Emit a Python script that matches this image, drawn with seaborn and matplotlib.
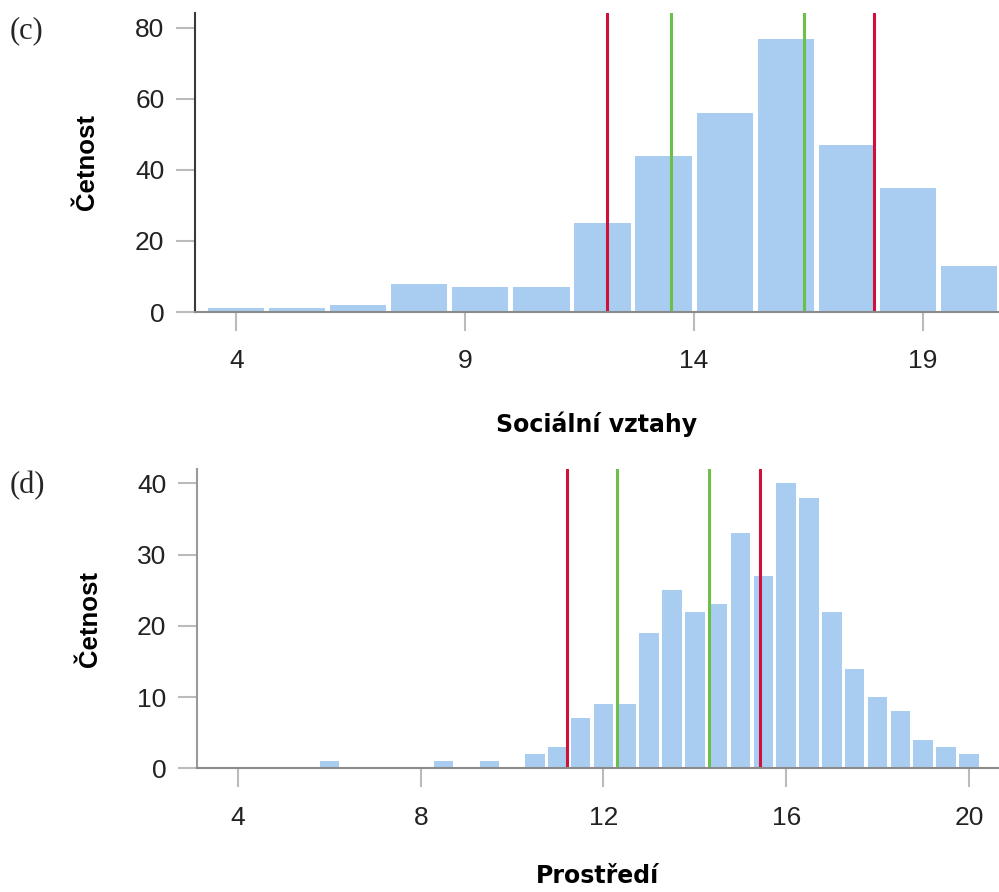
import numpy as np
import pandas as pd
import matplotlib
matplotlib.use("Agg")
import matplotlib.pyplot as plt
import seaborn as sns

# -------- Data --------
# (c) Sociální vztahy: bin centres (width 4/3) and counts
soc_centers = [4.0, 5.33, 6.67, 8.0, 9.33, 10.67, 12.0, 13.33, 14.67, 16.0, 17.33, 18.67, 20.0]
soc_counts = [1, 1, 2, 8, 7, 7, 25, 44, 56, 77, 47, 35, 13]
soc_red = [12.09, 17.92]
soc_green = [13.49, 16.40]
soc_ticks = [4, 9, 14, 19]

# (d) Prostředí: bin centres (width 0.5) and counts
env_centers = [6.0, 8.5, 9.5, 10.5, 11.0, 11.5, 12.0, 12.5, 13.0, 13.5, 14.0, 14.5,
               15.0, 15.5, 16.0, 16.5, 17.0, 17.5, 18.0, 18.5, 19.0, 19.5, 20.0]
env_counts = [1, 1, 1, 2, 3, 7, 9, 9, 19, 25, 22, 23,
              33, 27, 40, 38, 22, 14, 10, 8, 4, 3, 2]
env_red = [11.20, 15.42]
env_green = [12.29, 14.31]
env_ticks = [4, 8, 12, 16, 20]

df_soc = pd.DataFrame({"x": soc_centers, "n": soc_counts})
df_env = pd.DataFrame({"x": env_centers, "n": env_counts})

# -------- Style --------
sns.set_style("white")
plt.rcParams["font.family"] = ["Liberation Sans", "DejaVu Sans"]

BAR = "#A8CDF1"
RED = "#D0103A"
GREEN = "#6CC04A"

fig = plt.figure(figsize=(9.99, 8.92), dpi=100)
H = 892.0
ax1 = fig.add_axes([195 / 999, 1 - 312 / H, 804 / 999, 299 / H])
ax2 = fig.add_axes([197 / 999, 1 - 768.3 / H, 802 / 999, 299.3 / H])


def draw(ax, df, bw, brange, shrink, reds, greens, ticks, ylim, yticks, xlabel,
         spine_left, xlab_y):
    sns.histplot(data=df, x="x", weights="n", binwidth=bw, binrange=brange,
                 shrink=shrink, color=BAR, alpha=1, linewidth=0, ax=ax)
    for v in reds:
        ax.axvline(v, color=RED, lw=2.2, zorder=3)
    for v in greens:
        ax.axvline(v, color=GREEN, lw=2.2, zorder=3)
    ax.set_xlim(3.1, 20.66)
    ax.set_ylim(*ylim)
    ax.set_xticks(ticks)
    ax.set_yticks(yticks)
    ax.tick_params(axis="x", bottom=True, length=14, width=1.5, color="#BBBBBB", pad=13,
                   labelsize=19, labelcolor="#222222")
    ax.tick_params(axis="y", left=True, length=14, width=1.5, color="#BBBBBB", pad=8,
                   labelsize=19, labelcolor="#222222")
    for s in ["top", "right"]:
        ax.spines[s].set_visible(False)
    ax.spines["left"].set_color(spine_left)
    ax.spines["left"].set_linewidth(1.5)
    ax.spines["bottom"].set_color("#8A8A8A")
    ax.spines["bottom"].set_linewidth(1.5)
    ax.spines["bottom"].set_zorder(4)
    ax.set_ylabel("Četnost", fontsize=18.5, fontweight="bold", color="black")
    ax.yaxis.label.set_va("center")
    ax.yaxis.set_label_coords(-0.134, 0.5)
    ax.set_xlabel(xlabel, fontsize=17, fontweight="bold", family="DejaVu Sans",
                  color="black")
    ax.xaxis.label.set_va("baseline")
    ax.xaxis.set_label_coords(0.5, xlab_y)


draw(ax1, df_soc, 4 / 3, (10 / 3, 62 / 3), 0.92, soc_red, soc_green, soc_ticks,
     (0, 84.2), [0, 20, 40, 60, 80], "Sociální vztahy", "#3A3A3A", -(432 - 312) / 299)
draw(ax2, df_env, 0.5, (5.75, 20.25), 0.85, env_red, env_green, env_ticks,
     (0, 42.0), [0, 10, 20, 30, 40], "Prostředí", "#999999", -(883 - 768.3) / 299.3)

fig.text(10 / 999, 1 - 31 / H, "(c)", family="Liberation Serif", fontsize=22, va="center")
fig.text(10 / 999, 1 - 486 / H, "(d)", family="Liberation Serif", fontsize=22, va="center")

plt.savefig("out.png", dpi=100)
plt.close()
